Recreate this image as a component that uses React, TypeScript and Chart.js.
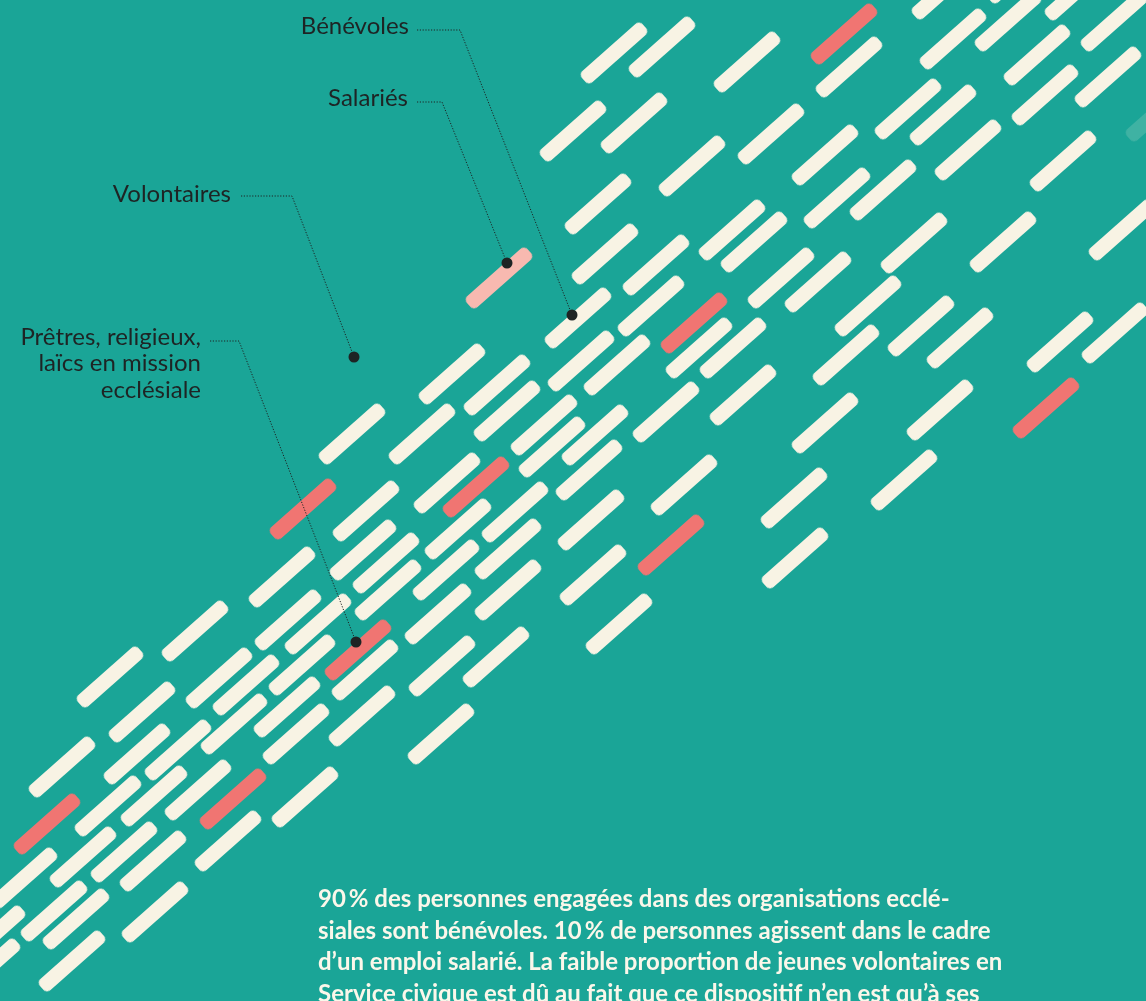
import React, { useEffect, useRef } from 'react';
import { Chart, registerables } from 'chart.js';

Chart.register(...registerables);

const W = 1146;
const H = 1001;

const BG = '#1aa597';
const CREAM = '#f8f3e4';
const RED = '#f07572';
const PINK = '#f8b9b0';
const FAINT = 'rgba(248,243,228,0.17)';
const INK = '#1e2424';

// Centres of the marks (one mark = one group of people)
const benevoles: [number, number][] = [
  [614, 53], [662, 47], [747, 62], [849, 67], [573, 131], [634, 123], [771, 134], [692, 166],
  [825, 155], [598, 204], [837, 198], [605, 254], [656, 265], [732, 230], [754, 242], [781, 278],
  [818, 282], [578, 318], [651, 306],
  [945, -11], [1020, -27], [953, 39], [1008, 21], [1078, -10], [1114, 21], [1037, 55], [1108, 77],
  [908, 109], [943, 115], [1045, 95], [968, 150], [1063, 161], [883, 190], [914, 243], [1003, 242],
  [1122, 230], [868, 306], [921, 326], [960, 338], [1060, 342], [1115, 333],
  [581, 361], [617, 365], [699, 348], [733, 348], [846, 355], [595, 435], [666, 412], [743, 395],
  [589, 470], [825, 423], [940, 410], [684, 485], [591, 520], [904, 480], [794, 498], [593, 575],
  [795, 558], [619, 624],
  [452, 374], [497, 385], [507, 411], [352, 434], [422, 434], [544, 425], [552, 447], [447, 483],
  [366, 511], [515, 512], [458, 529],
  [282, 577], [363, 550], [386, 563], [195, 631], [288, 620], [318, 624], [388, 590], [446, 570],
  [438, 614], [219, 678], [246, 685], [302, 665], [365, 670], [442, 666], [234, 724], [287, 707],
  [296, 734], [362, 716], [441, 734], [496, 657], [508, 549], [508, 590],
  [110, 677], [142, 712], [137, 754], [178, 750], [62, 767], [108, 806], [154, 796], [198, 790],
  [305, 797], [24, 878], [83, 857], [124, 852], [153, 861], [228, 841], [-8, 936], [54, 911],
  [76, 919], [155, 912], [-13, 969], [72, 961],
];

const pretres: [number, number][] = [
  [844, 34], [694, 323], [303, 509], [476, 487], [358, 650], [47, 824], [233, 799], [671, 545], [1046, 408],
];

const salaries: [number, number][] = [[499, 278]];

const faint: [number, number][] = [[1159, 111]];

// Label anchors and leader lines
const anchorPoints: [number, number][] = [[572, 315], [507, 263], [354, 357], [356, 642]];

const leaderLines: [number, number][][] = [
  [[417, 30], [460, 30], [572, 315]],
  [[417, 102], [442, 102], [507, 263]],
  [[241, 196], [292, 196], [354, 357]],
  [[210, 341], [239, 341], [356, 642]],
];

const BAR_LEN = 81;
const BAR_W = 15;
const ANGLE = -41.5;

function makeBar(color: string): HTMLCanvasElement {
  const c = document.createElement('canvas');
  c.width = BAR_LEN;
  c.height = BAR_W;
  const ctx = c.getContext('2d')!;
  ctx.fillStyle = color;
  ctx.beginPath();
  if ((ctx as any).roundRect) {
    (ctx as any).roundRect(0, 0, BAR_LEN, BAR_W, 5);
  } else {
    ctx.rect(0, 0, BAR_LEN, BAR_W);
  }
  ctx.fill();
  return c;
}

const toXY = (arr: [number, number][]) => arr.map(([x, y]) => ({ x, y }));

export default function App() {
  const ref = useRef<HTMLCanvasElement | null>(null);

  useEffect(() => {
    if (!ref.current) return;
    const barDs = (label: string, data: [number, number][], color: string) => ({
      label,
      data: toXY(data),
      pointStyle: makeBar(color) as any,
      pointRadius: 45,
      pointRotation: ANGLE,
      pointBorderWidth: 0,
      showLine: false,
      clip: false,
      order: 3,
    });
    const leaders = leaderLines.map((l, i) => ({
      label: 'leader' + i,
      data: toXY(l),
      showLine: true,
      borderColor: INK,
      borderWidth: 1,
      borderDash: [1.2, 1.6],
      pointRadius: 0,
      tension: 0,
      fill: false,
      clip: false,
      order: 2,
    }));
    const chart = new Chart(ref.current, {
      type: 'scatter',
      data: {
        datasets: [
          barDs('Bénévoles', benevoles, CREAM),
          barDs('Prêtres, religieux, laïcs en mission ecclésiale', pretres, RED),
          barDs('Salariés', salaries, PINK),
          barDs('Autres', faint, FAINT),
          ...leaders,
          {
            label: 'anchors',
            data: toXY(anchorPoints),
            pointStyle: 'circle',
            pointRadius: 5.5,
            pointBackgroundColor: INK,
            pointBorderWidth: 0,
            showLine: false,
            clip: false,
            order: 1,
          },
        ] as any,
      },
      options: {
        animation: false,
        responsive: false,
        events: [],
        layout: { padding: 0, autoPadding: false },
        scales: {
          x: { type: 'linear', min: 0, max: W, display: false },
          y: { type: 'linear', min: 0, max: H, reverse: true, display: false },
        },
        plugins: {
          legend: { display: false },
          tooltip: { enabled: false },
        },
      } as any,
    });
    return () => chart.destroy();
  }, []);

  const labelStyle: React.CSSProperties = {
    position: 'absolute',
    font: '24px Lato, "Noto Sans", sans-serif',
    lineHeight: '26.5px',
    color: INK,
    textAlign: 'right',
    whiteSpace: 'nowrap',
  };

  return (
    <div
      style={{
        position: 'absolute',
        left: 0,
        top: 0,
        width: W,
        height: H,
        background: BG,
        overflow: 'hidden',
      }}
    >
      <canvas ref={ref} width={W} height={H} style={{ position: 'absolute', left: 0, top: 0 }} />
      <div style={{ ...labelStyle, right: W - 409, top: 11.5 }}>Bénévoles</div>
      <div style={{ ...labelStyle, right: W - 408, top: 83.5 }}>Salariés</div>
      <div style={{ ...labelStyle, right: W - 231, top: 179.5 }}>Volontaires</div>
      <div style={{ ...labelStyle, right: W - 201, top: 322.5 }}>
        Prêtres, religieux,
        <br />
        laïcs en mission
        <br />
        ecclésiale
      </div>
      <div
        style={{
          position: 'absolute',
          left: 318,
          top: 882,
          font: 'bold 24px Lato, "Noto Sans", sans-serif',
          lineHeight: '31.5px',
          color: '#fbf7ea',
          whiteSpace: 'nowrap',
        }}
      >
        90{'\u2009'}% des personnes engagées dans des organisations ecclé-
        <br />
        siales sont bénévoles. 10{'\u2009'}% de personnes agissent dans le cadre
        <br />
        d’un emploi salarié. La faible proportion de jeunes volontaires en
        <br />
        Service civique est dû au fait que ce dispositif n’en est qu’à ses
      </div>
    </div>
  );
}
